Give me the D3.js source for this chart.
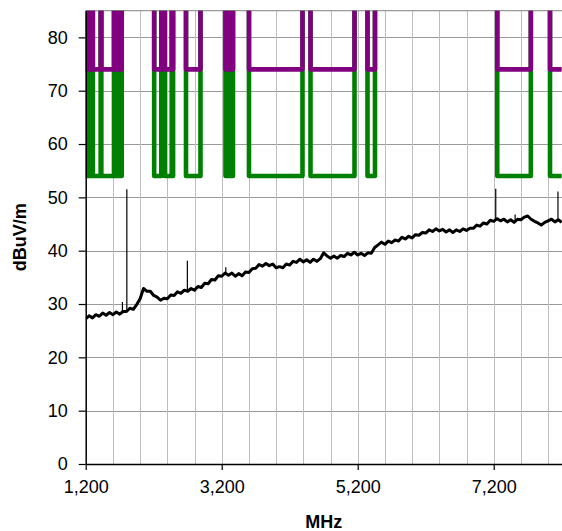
<!DOCTYPE html>
<html><head><meta charset="utf-8">
<script src="https://cdn.jsdelivr.net/npm/d3@7"></script>
<style>body{margin:0;background:#fff}svg{display:block;font-family:"Liberation Sans",Arial,sans-serif}</style>
</head><body><svg id="c" width="562" height="531"></svg>
<script>
// ---- data ----
const freqStart = 1200, freqStep = 50;           // MHz, sampling of the trace
const levels = [
27.2,27.8,27.4,28.0,27.7,28.3,27.9,28.4,28.0,28.5,28.1,28.6,28.6,29.2,29.0,29.9,
31.0,32.9,32.4,32.4,31.6,31.3,30.7,31.1,31.0,31.7,31.6,32.3,32.0,32.6,32.4,32.9,
32.6,33.3,33.1,33.9,33.8,34.6,34.5,35.3,35.2,35.8,35.4,35.8,35.2,35.7,35.3,36.0,
35.9,36.6,36.7,37.4,37.1,37.6,37.2,37.5,36.8,37.0,36.8,37.5,37.3,38.0,37.8,38.4,
37.9,38.3,37.8,38.4,38.0,38.5,39.6,39.0,38.6,39.0,38.6,39.1,38.9,39.5,39.2,39.7,
39.2,39.5,39.1,39.6,39.5,40.6,41.1,41.6,41.2,41.8,41.5,42.0,41.8,42.5,42.2,42.7,
42.4,43.0,42.9,43.4,43.3,43.9,43.6,44.1,43.7,44.0,43.5,43.9,43.4,43.9,43.6,44.1,
43.8,44.2,44.2,44.8,44.6,45.2,45.0,45.7,45.5,46.0,45.6,45.9,45.4,45.8,45.3,45.9,
45.8,46.3,46.5,45.9,45.5,45.2,44.8,45.3,45.6,45.9,45.4,45.8,45.3
];
// narrow spikes: [MHz, base level, peak level]
const spikes = [[1740,28.4,30.4],[1805,28.6,51.5],[2695,32.5,38.1],[3260,35.6,36.9],
                [7230,45.7,51.6],[7515,45.5,46.8],[8145,45.6,51.1]];
const upperLimit = 74, lowerLimit = 54;
// frequency intervals where the limit masks apply (MHz)
const maskIntervals = [
  [1205,1240],[1255,1300],[1305,1420],[1430,1616],[1625,1690],[1700,1730],
  [2207,2312],[2362,2465],[2478,2485],
  [2675,2888],
  [3256,3285],[3295,3330],[3340,3366],
  [3601,4388],[4506,5153],[5344,5454],[7252,7746],[8028,8200]
];
const xDomain = [1200, 8200];
const yDomain = [0, 85];
const xTicks = [1200, 3200, 5200, 7200];
const xGrid = [1600,2000,2400,2800,3200,3600,4000,4400,4800,5200,5600,6000,6400,6800,7200,7600,8000];
const yTicks = [0,10,20,30,40,50,60,70,80];
const xTitle = "MHz", yTitle = "dBuV/m";

// ---- drawing ----
const svg = d3.select("#c");
const L = 85.7, R = 561.7, T = 10.7, B = 464;
const x = d3.scaleLinear().domain(xDomain).range([L, R]);
const y = d3.scaleLinear().domain(yDomain).range([B, T]);

svg.append("defs").append("clipPath").attr("id","clip")
  .append("rect").attr("x",L).attr("y",T).attr("width",R-L+1).attr("height",B-T);

// grid
svg.append("g").selectAll("line").data(yTicks.filter(d=>d>0)).join("line")
  .attr("x1",L).attr("x2",562).attr("y1",d=>Math.round(y(d))+0.5).attr("y2",d=>Math.round(y(d))+0.5)
  .attr("stroke","#9a9a9a").attr("stroke-width",1);
svg.append("g").selectAll("line").data(xGrid).join("line")
  .attr("y1",T).attr("y2",B).attr("x1",d=>Math.round(x(d))+0.5).attr("x2",d=>Math.round(x(d))+0.5)
  .attr("stroke","#bdbdbd").attr("stroke-width",1);
// top border
svg.append("line").attr("x1",L).attr("x2",562).attr("y1",T).attr("y2",T)
  .attr("stroke","#9a9a9a").attr("stroke-width",1.2);

const plot = svg.append("g").attr("clip-path","url(#clip)");
const OFF = 120;
function maskPts(limit){
  const pts = [[xDomain[0], OFF]];
  maskIntervals.forEach(([a,b])=>{
    pts.push([a,OFF],[a,limit],[b,limit]);
    if (b < xDomain[1]) pts.push([b,OFF]);
  });
  if (maskIntervals[maskIntervals.length-1][1] < xDomain[1]) pts.push([xDomain[1],OFF]);
  return pts;
}
const line = d3.line().x(d=>x(d[0])).y(d=>y(d[1]));
plot.append("path").attr("d", line(maskPts(lowerLimit)))
  .attr("fill","none").attr("stroke","#008000").attr("stroke-width",4.6).attr("stroke-linejoin","round");
plot.append("path").attr("d", line(maskPts(upperLimit)))
  .attr("fill","none").attr("stroke","#800080").attr("stroke-width",4.6).attr("stroke-linejoin","round");

// measured trace
const trace = levels.map((v,i)=>[freqStart + i*freqStep, v]);
plot.append("path").attr("d", line(trace))
  .attr("fill","none").attr("stroke","#000").attr("stroke-width",3).attr("stroke-linejoin","round");
plot.append("g").selectAll("line").data(spikes).join("line")
  .attr("x1",d=>x(d[0])).attr("x2",d=>x(d[0])).attr("y1",d=>y(d[1])).attr("y2",d=>y(d[2]))
  .attr("stroke","#000").attr("stroke-width",1.2);

// axes
const ax = svg.append("g").attr("transform",`translate(0,${B})`)
  .call(d3.axisBottom(x).tickValues(xTicks).tickFormat(d3.format(",")).tickSize(6).tickSizeOuter(0));
ax.select(".domain").attr("stroke","#000").attr("stroke-width",1.5);
ax.selectAll(".tick line").attr("stroke","#000").attr("stroke-width",1.2);
ax.selectAll("text").attr("font-size",18).attr("fill","#000").attr("dy","1.1em")
  .attr("font-family","'Liberation Sans',Arial,sans-serif");

const ay = svg.append("g").attr("transform",`translate(${L},0)`)
  .call(d3.axisLeft(y).tickValues(yTicks).tickSize(7).tickSizeOuter(0).tickPadding(11));
ay.select(".domain").attr("stroke","#000").attr("stroke-width",1.5);
ay.selectAll(".tick line").attr("stroke","#000").attr("stroke-width",1.2);
ay.selectAll("text").attr("font-size",18).attr("fill","#000")
  .attr("font-family","'Liberation Sans',Arial,sans-serif");

svg.append("text").attr("x",(L+R)/2).attr("y",528).attr("text-anchor","middle")
  .attr("font-size",18).attr("font-weight","bold").text(xTitle);
svg.append("text").attr("transform",`translate(26,${(T+B)/2}) rotate(-90)`).attr("text-anchor","middle")
  .attr("font-size",18).attr("font-weight","bold").text(yTitle);
</script></body></html>
